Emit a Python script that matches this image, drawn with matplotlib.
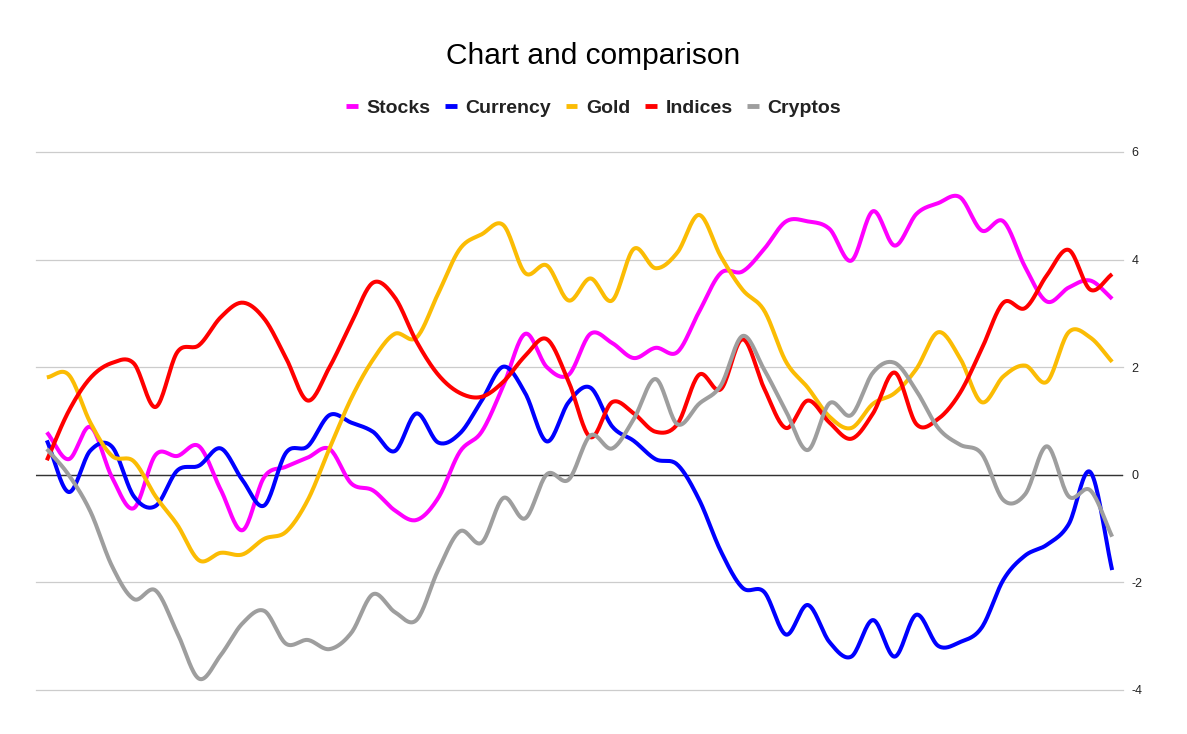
import numpy as np
import matplotlib
matplotlib.use("Agg")
import matplotlib.pyplot as plt

plt.rcParams["font.family"] = ["Liberation Sans", "DejaVu Sans"]

title = "Chart and comparison"
series_names = ["Stocks", "Currency", "Gold", "Indices", "Cryptos"]
series_colors = ["#ff00ff", "#0000ff", "#fbbc04", "#ff0000", "#9e9e9e"]

stocks = [0.79, 0.29, 0.89, -0.05, -0.62, 0.37, 0.35, 0.53, -0.28, -1.03,
          -0.04, 0.15, 0.32, 0.48, -0.16, -0.29, -0.66, -0.84, -0.43, 0.43,
          0.80, 1.66, 2.62, 2.00, 1.86, 2.62, 2.45, 2.17, 2.36, 2.28,
          3.03, 3.75, 3.78, 4.20, 4.71, 4.71, 4.57, 3.98, 4.90, 4.26,
          4.85, 5.05, 5.16, 4.54, 4.71, 3.86, 3.22, 3.48, 3.61, 3.27]
currency = [0.64, -0.32, 0.45, 0.52, -0.40, -0.58, 0.08, 0.17, 0.49, -0.10,
            -0.57, 0.41, 0.53, 1.11, 0.97, 0.80, 0.44, 1.14, 0.60, 0.77,
            1.38, 2.01, 1.52, 0.62, 1.35, 1.62, 0.90, 0.63, 0.29, 0.19,
            -0.46, -1.42, -2.10, -2.18, -2.97, -2.42, -3.11, -3.38, -2.70, -3.38,
            -2.60, -3.18, -3.11, -2.84, -1.95, -1.50, -1.30, -0.92, 0.05, -1.77]
gold = [1.81, 1.86, 0.97, 0.35, 0.25, -0.40, -0.93, -1.59, -1.45, -1.48,
        -1.19, -1.06, -0.47, 0.49, 1.42, 2.14, 2.62, 2.55, 3.37, 4.20,
        4.47, 4.64, 3.75, 3.89, 3.24, 3.65, 3.24, 4.20, 3.84, 4.13,
        4.83, 4.06, 3.44, 3.05, 2.10, 1.62, 1.08, 0.87, 1.32, 1.52,
        1.97, 2.65, 2.17, 1.35, 1.83, 2.03, 1.73, 2.65, 2.55, 2.10]
indices = [0.27, 1.18, 1.80, 2.08, 2.07, 1.26, 2.28, 2.41, 2.93, 3.20,
           2.90, 2.17, 1.38, 2.00, 2.82, 3.57, 3.30, 2.48, 1.86, 1.52,
           1.45, 1.73, 2.21, 2.52, 1.73, 0.70, 1.35, 1.14, 0.80, 0.94,
           1.86, 1.59, 2.52, 1.60, 0.87, 1.38, 0.97, 0.67, 1.14, 1.90,
           0.94, 1.04, 1.52, 2.34, 3.20, 3.10, 3.71, 4.18, 3.44, 3.73]
cryptos = [0.48, 0.00, -0.68, -1.70, -2.31, -2.15, -2.94, -3.79, -3.35, -2.76,
           -2.53, -3.14, -3.07, -3.24, -2.94, -2.22, -2.55, -2.70, -1.77, -1.05,
           -1.26, -0.43, -0.81, 0.01, -0.09, 0.73, 0.49, 1.04, 1.78, 0.94,
           1.32, 1.66, 2.58, 1.95, 1.18, 0.46, 1.33, 1.11, 1.90, 2.08,
           1.56, 0.87, 0.56, 0.39, -0.47, -0.36, 0.53, -0.40, -0.29, -1.15]

y_ticks = [-4, -2, 0, 2, 4, 6]


def smooth(values, steps=20):
    # Catmull-Rom curve through the points, like the "smooth" line option
    y = np.asarray(values, dtype=float)
    p = np.concatenate([[2 * y[0] - y[1]], y, [2 * y[-1] - y[-2]]])
    t = np.linspace(0, 1, steps, endpoint=False)
    xs, ys = [], []
    for i in range(len(y) - 1):
        p0, p1, p2, p3 = p[i:i + 4]
        seg = 0.5 * (2 * p1 + (p2 - p0) * t
                     + (2 * p0 - 5 * p1 + 4 * p2 - p3) * t ** 2
                     + (-p0 + 3 * p1 - 3 * p2 + p3) * t ** 3)
        xs.append(i + t)
        ys.append(seg)
    xs.append([len(y) - 1])
    ys.append([y[-1]])
    return np.concatenate(xs), np.concatenate(ys)


fig = plt.figure(figsize=(11.87, 7.34), dpi=100)
ax = fig.add_axes([36 / 1187, 1 - 690 / 734, (1123 - 36) / 1187, (690 - 152) / 734])

all_series = [stocks, currency, gold, indices, cryptos]
for name, color, values in zip(series_names, series_colors, all_series):
    xs, ys = smooth(values)
    ax.plot(xs, ys, color=color, lw=2.9, label=name, solid_capstyle="butt", zorder=3)

ax.set_xlim(-0.5, len(stocks) - 0.5)
ax.set_ylim(-4, 6)
ax.set_yticks(y_ticks)
ax.set_yticklabels([str(v) for v in y_ticks])
ax.yaxis.tick_right()
ax.tick_params(axis="y", length=0, pad=6, labelsize=9, labelcolor="#222222")
ax.set_xticks([])
ax.grid(axis="y", color="#cccccc", lw=0.9)
for gl in ax.get_ygridlines():
    gl.set_clip_on(False)
ax.axhline(0, color="#333333", lw=1.0, zorder=2)
for s in ax.spines.values():
    s.set_visible(False)
ax.set_axisbelow(True)

fig.text(0.5, 1 - 56 / 734, title, ha="center", va="center", fontsize=21.5, color="#000000")

leg = fig.legend(loc="center", bbox_to_anchor=(0.5, 1 - 108 / 734), ncol=5, frameon=False,
                 handlelength=0.6, handletextpad=0.45, columnspacing=0.75,
                 prop={"weight": "bold", "size": 14})
for h in leg.get_lines():
    h.set_linewidth(3.5)
for t in leg.get_texts():
    t.set_color("#222222")

fig.savefig("out.png", dpi=100)
